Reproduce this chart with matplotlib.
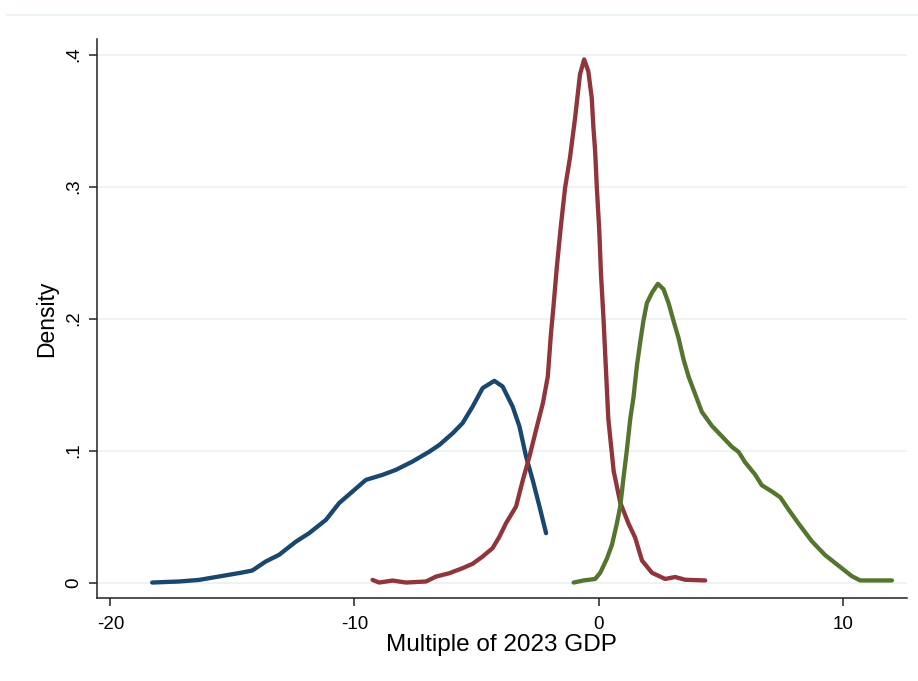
import matplotlib
matplotlib.use("Agg")
import matplotlib.pyplot as plt
from matplotlib.lines import Line2D

plt.rcParams['font.family'] = ['Liberation Sans', 'DejaVu Sans']

# Kernel density estimates, multiple of 2023 GDP
blue_x = [-18.29, -17.19, -16.37, -15.42, -14.60, -14.19, -13.64, -13.09, -12.40,
          -11.86, -11.17, -10.63, -10.08, -9.53, -8.85, -8.30, -7.62, -6.93, -6.52,
          -5.97, -5.57, -5.16, -4.75, -4.27, -3.93, -3.52, -3.24, -2.97, -2.70,
          -2.42, -2.15]
blue_y = [0.0, 0.0008, 0.002, 0.005, 0.0076, 0.0091, 0.0159, 0.021, 0.031,
          0.0374, 0.0475, 0.0602, 0.069, 0.0778, 0.0816, 0.0854, 0.0917, 0.0992,
          0.1043, 0.1132, 0.1208, 0.1333, 0.1473, 0.1528, 0.1485, 0.1333, 0.1182,
          0.0955, 0.0778, 0.0576, 0.0374]

red_x = [-9.26, -8.99, -8.44, -7.89, -7.07, -6.66, -6.11, -5.57, -5.16, -4.75,
         -4.34, -4.06, -3.79, -3.38, -3.10, -2.83, -2.56, -2.28, -2.08, -1.95,
         -1.85, -1.71, -1.55, -1.37, -1.17, -0.96, -0.76, -0.59, -0.42, -0.28,
         -0.21, -0.14, -0.07, 0.03, 0.10, 0.20, 0.26, 0.40, 0.62, 0.89, 1.23,
         1.50, 1.78, 2.19, 2.73, 3.14, 3.55, 4.37]
red_y = [0.002, 0.0, 0.0015, 0.0, 0.0008, 0.0045, 0.0071, 0.0109, 0.0142, 0.0197,
         0.0261, 0.0348, 0.045, 0.0576, 0.0778, 0.0955, 0.1157, 0.1359, 0.156,
         0.1886, 0.2085, 0.2388, 0.269, 0.2992, 0.3219, 0.3521, 0.385, 0.3963,
         0.3874, 0.3673, 0.3446, 0.327, 0.2992, 0.2665, 0.2338, 0.201, 0.1780,
         0.1241, 0.0844, 0.0605, 0.0446, 0.034, 0.0167, 0.0074, 0.0027, 0.0042,
         0.0021, 0.0016]

green_x = [-1.02, -0.61, -0.14, 0.07, 0.34, 0.55, 0.75, 0.89, 1.02, 1.16, 1.30,
           1.43, 1.57, 1.71, 1.84, 1.98, 2.19, 2.43, 2.66, 2.87, 3.07, 3.28, 3.48,
           3.69, 3.96, 4.23, 4.64, 5.05, 5.46, 5.74, 6.01, 6.42, 6.69, 7.10, 7.45,
           7.79, 8.20, 8.74, 9.29, 9.84, 10.38, 10.72, 12.02]
green_y = [0.0, 0.0016, 0.0027, 0.0074, 0.018, 0.0286, 0.0446, 0.0578, 0.079,
           0.1003, 0.1241, 0.14, 0.1639, 0.1825, 0.1984, 0.2117, 0.2196, 0.2263,
           0.2223, 0.2117, 0.1984, 0.1851, 0.1692, 0.156, 0.1427, 0.1294, 0.1188,
           0.1109, 0.1029, 0.0989, 0.091, 0.0817, 0.0737, 0.069, 0.0645, 0.0552,
           0.0446, 0.0313, 0.0207, 0.0127, 0.0048, 0.0016, 0.0016]

x_ticks = [-20, -10, 0, 10]
y_ticks = [0, 0.1, 0.2, 0.3, 0.4]
y_tick_labels = ['0', '.1', '.2', '.3', '.4']

fig = plt.figure(figsize=(9.18, 6.81), dpi=100)
ax = fig.add_axes([0.1057, 0.1219, 0.8818, 0.8201])

grid_col = '#e8f0f2'
for y in y_ticks:
    ax.axhline(y, color=grid_col, lw=1.1, zorder=0)

lw = 3.1
ax.plot(blue_x, blue_y, color='#1a476f', lw=lw, solid_capstyle='round')
ax.plot(red_x, red_y, color='#90353b', lw=lw, solid_capstyle='round')
ax.plot(green_x, green_y, color='#55752f', lw=lw, solid_capstyle='round')

ax.set_xlim(-20.55, 12.62)
ax.set_ylim(-0.0117, 0.4114)

for s in ['top', 'right']:
    ax.spines[s].set_visible(False)
for s in ['left', 'bottom']:
    ax.spines[s].set_linewidth(1.1)
    ax.spines[s].set_color('#222222')

ax.set_xticks(x_ticks)
ax.set_xticklabels([str(t) for t in x_ticks])
ax.set_yticks(y_ticks)
ax.set_yticklabels(y_tick_labels, rotation=90, va='center')
ax.tick_params(axis='both', length=6, width=1.1, color='#222222', labelsize=13.5)
ax.tick_params(axis='x', pad=7)
ax.tick_params(axis='y', pad=5)

ax.set_xlabel('Multiple of 2023 GDP', fontsize=17.5, labelpad=1)
ax.set_ylabel('Density', fontsize=16.5, labelpad=5)

# thin rule across the top of the graph region
fig.add_artist(Line2D([0.008, 1.0], [1 - 14.5 / 681, 1 - 14.5 / 681],
                      transform=fig.transFigure, color=grid_col, lw=1.2))

fig.savefig('out.png', dpi=100, facecolor='white')
